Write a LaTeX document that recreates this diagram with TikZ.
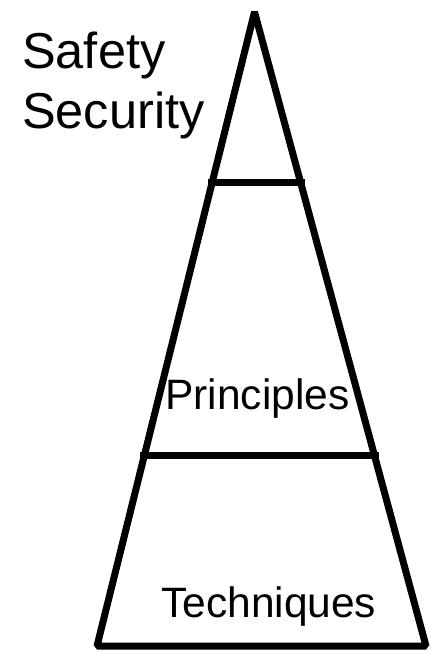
\documentclass[tikz,border=0pt]{standalone}
\usepackage{fontspec}
\setmainfont{Liberation Sans}
\usetikzlibrary{calc}
\tikzset{
  edge/.style={line width=7pt, black, line join=bevel},
  shadowline/.style={line width=6pt, black!22},
  label/.style={inner sep=0pt, anchor=base west, font=\fontsize{42.5}{50}\selectfont},
  biglabel/.style={inner sep=0pt, anchor=base west, font=\fontsize{50.5}{60}\selectfont}
}
\begin{document}
\begin{tikzpicture}[x=1pt,y=-1pt]
\useasboundingbox (0,0) rectangle (432,651);
\coordinate (apex) at (254.5,12);
\coordinate (bl) at (97,646);
\coordinate (br) at (426,646);
\coordinate (l1) at ($(apex)!0.2697!(bl)+(-4,0)$);
\coordinate (r1) at ($(apex)!0.2697!(br)+(4,0)$);
\coordinate (l2) at ($(apex)!0.7003!(bl)+(-4,0)$);
\coordinate (r2) at ($(apex)!0.7003!(br)+(4,0)$);
% shadows
\begin{scope}[shift={(1,5)}]
\draw[shadowline] (l1) -- (r1);
\draw[shadowline] (l2) -- (r2);
\draw[shadowline] (apex) -- (br);
\end{scope}
% pyramid
\draw[edge] (apex) -- (bl) -- (br) -- cycle;
\draw[edge] (l1) -- (r1);
\draw[edge] (l2) -- (r2);
% labels
\node[biglabel] (safety) at (22,68) {Safety};
\node[biglabel] (security) at (22,128) {Security};
\node[label] (principles) at (165,409) {Principles};
\node[label] (techniques) at (161,617) {Techniques};
\end{tikzpicture}
\end{document}
